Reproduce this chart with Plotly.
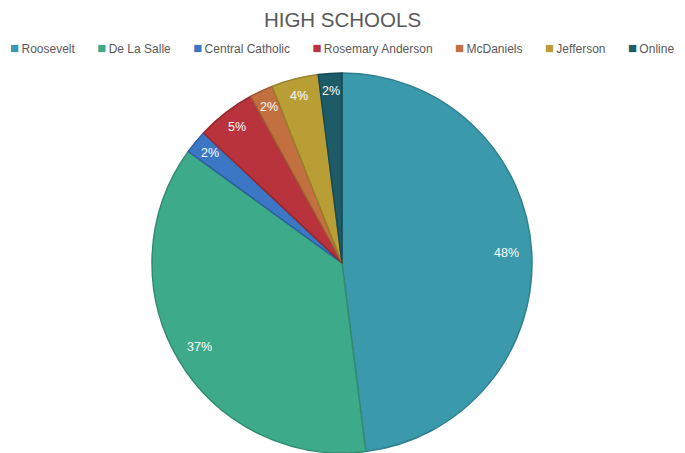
import math
import plotly.graph_objects as go

schools = ["Roosevelt", "De La Salle", "Central Catholic", "Rosemary Anderson",
           "McDaniels", "Jefferson", "Online"]
percent = [48, 37, 2, 5, 2, 4, 2]
labels_txt = [f"{v}%" for v in percent]

colors = ["#3A99AA", "#3DAA8A", "#3C77C6", "#B8333B", "#C2703F", "#B99E35", "#1D5B68"]
edges = ["#2F7F8D", "#318C71", "#2F5FA0", "#962830", "#9E5A31", "#97812A", "#164A55"]

W, H = 685, 453
ml, mr, mt, mb = 0, 1, 73, 0
pw, ph = W - ml - mr, H - mt - mb
FONT = "Liberation Sans, Arial, sans-serif"

fig = go.Figure(go.Pie(
    labels=schools, values=percent, sort=False, direction="clockwise",
    rotation=0, textinfo="none", hoverinfo="label+percent", showlegend=False,
    marker=dict(colors=colors, line=dict(color=edges, width=1.5)),
    domain=dict(x=[0, 1], y=[0, 1]),
))

# percentage labels placed along each slice's mid-angle
total = sum(percent)
cum = 0
cx, cy, R = pw / 2, ph / 2, min(pw, ph) / 2
anns = []
for v, t in zip(percent, labels_txt):
    mid = (cum + v / 2) / total
    cum += v
    th = 2 * math.pi * mid
    rf = 0.87 if v >= 10 else 0.905
    x = cx + rf * R * math.sin(th)
    y = cy + rf * R * math.cos(th)
    anns.append(dict(x=x / pw, y=y / ph, xref="paper", yref="paper", text=t,
                     xanchor="center", yanchor="middle", showarrow=False,
                     font=dict(color="white", size=12.5, family=FONT)))

# legend row (built from the category names and colours)
items = [f'<span style="color:{c};font-size:15px">\u25A0</span>\u2009{n}'
         for n, c in zip(schools, colors)]
legend_text = ("\u00a0" * 6 + "\u2009").join(items)
anns.append(dict(x=0.5, y=1 + (73 - 47) / ph, xref="paper", yref="paper",
                 xanchor="center", yanchor="middle", showarrow=False,
                 text=legend_text, font=dict(size=12, color="#595959", family=FONT)))

fig.update_layout(
    width=W, height=H,
    margin=dict(l=ml, r=mr, t=mt, b=mb, autoexpand=False),
    paper_bgcolor="white", plot_bgcolor="white",
    title=dict(text="HIGH SCHOOLS", x=0.5, xanchor="center", y=1 - 20 / H,
               yref="container", yanchor="middle",
               font=dict(size=20.5, color="#595959", family=FONT)),
    showlegend=False,
    annotations=anns,
)
fig.write_html("out.html")
